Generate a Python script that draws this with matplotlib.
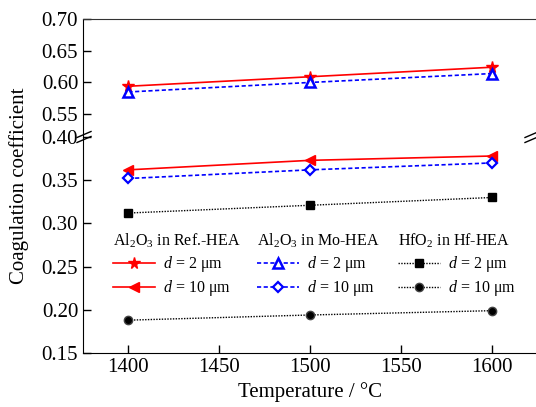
import matplotlib
matplotlib.use("Agg")
import matplotlib.pyplot as plt
from matplotlib.lines import Line2D

plt.rcParams['font.family'] = ['Liberation Serif', 'DejaVu Serif']
plt.rcParams['mathtext.fontset'] = 'custom'
plt.rcParams['mathtext.rm'] = 'Liberation Serif'
plt.rcParams['mathtext.it'] = 'Liberation Serif:italic'

# dados
temps = [1400, 1500, 1600]
ref_d2 = [0.594, 0.609, 0.624]
mo_d2 = [0.585, 0.600, 0.614]
ref_d10 = [0.362, 0.373, 0.378]
mo_d10 = [0.352, 0.362, 0.370]
hf_d2 = [0.312, 0.321, 0.330]
hf_d10 = [0.188, 0.194, 0.199]

titles = ["Al$_2$O$_3$ in Ref.-HEA", "Al$_2$O$_3$ in Mo-HEA", "HfO$_2$ in Hf-HEA"]
labels = ["$d$ = 2 μm", "$d$ = 10 μm"]
upper_ticks = [0.55, 0.60, 0.65, 0.70]
lower_ticks = [0.15, 0.20, 0.25, 0.30, 0.35, 0.40]
x_ticks = [1400, 1450, 1500, 1550, 1600]

W, H = 536, 407
fig = plt.figure(figsize=(W / 100, H / 100), dpi=100)

left = 83 / W
width = (537.5 - 83) / W
y_top = 1 - 19 / H
y_brk = 1 - 137 / H
y_bot = 1 - 353 / H

ax_up = fig.add_axes([left, y_brk, width, y_top - y_brk])
ax_lo = fig.add_axes([left, y_bot, width, y_brk - y_bot], sharex=ax_up)

red = dict(color='red', lw=1.2, ls='-')
blue = dict(color='blue', lw=1.2, ls=(0, (2.5, 1.5)))
black = dict(color='black', lw=1.0, ls=(0, (1, 1)))

s_ref2, = ax_up.plot(temps, ref_d2, marker='*', ms=8.5, **red)
s_mo2, = ax_up.plot(temps, mo_d2, marker='^', ms=6.5, mfc='white', mec='blue', mew=1.8, **blue)
s_ref10, = ax_lo.plot(temps, ref_d10, marker='<', ms=7.5, **red)
s_mo10, = ax_lo.plot(temps, mo_d10, marker='D', ms=5.5, mfc='white', mec='blue', mew=1.6, **blue)
s_hf2, = ax_lo.plot(temps, hf_d2, marker='s', ms=5.5, **black)
s_hf10, = ax_lo.plot(temps, hf_d10, marker='o', ms=6, mec='#444444', **black)

ax_up.set_xlim(1375, 1625)
ax_up.set_ylim(0.514, 0.70)
ax_lo.set_ylim(0.15, 0.40)
ax_up.set_yticks(upper_ticks)
ax_lo.set_yticks(lower_ticks)
ax_lo.set_xticks(x_ticks)

for ax in (ax_up, ax_lo):
    ax.tick_params(direction='in', labelsize=15, length=6, width=1)
    ax.spines['right'].set_visible(False)
    ax.yaxis.set_major_formatter(plt.FormatStrFormatter('%.2f'))
ax_up.spines['bottom'].set_visible(False)
ax_lo.spines['top'].set_visible(False)
ax_up.tick_params(axis='x', bottom=False, labelbottom=False)
ax_up.spines['top'].set_color('#333333')

ax_lo.set_xlabel("Temperature / °C", fontsize=15, labelpad=4)
fig.text(19 / W, 1 - 186 / H, "Coagulation coefficient", rotation=90,
         ha='center', va='center', fontsize=15)

# marcas de quebra do eixo
yb = y_brk
for xc in (84 / W, 532 / W):
    for dy in (-2.5 / H, 2.5 / H):
        fig.add_artist(Line2D([xc - 7 / W, xc + 7 / W],
                              [yb + dy - 3 / H, yb + dy + 3 / H],
                              color='black', lw=1.0))

# legendas em três colunas
cols = [([s_ref2, s_ref10], 113), ([s_mo2, s_mo10], 257), ([s_hf2, s_hf10], 398)]
for i, (handles, xpix) in enumerate(cols):
    fig.legend(handles, labels, title=titles[i], loc='upper left',
               bbox_to_anchor=(xpix / W, 1 - 232 / H),
               frameon=False, fontsize=11.5, title_fontsize=11.5,
               alignment='left', borderpad=0, borderaxespad=0,
               handlelength=2.6, handletextpad=0.55, labelspacing=0.25)

fig.savefig("out.png", dpi=100)
